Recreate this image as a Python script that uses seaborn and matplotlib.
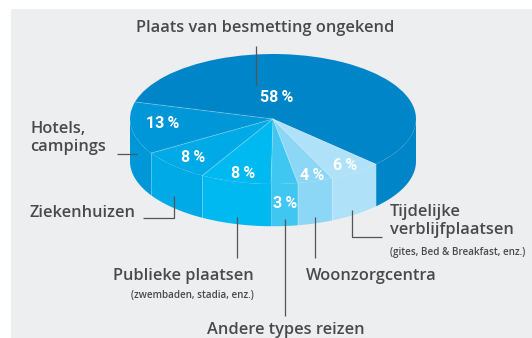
import numpy as np
import matplotlib
matplotlib.use("Agg")
import matplotlib.pyplot as plt
from matplotlib.patches import Rectangle
import seaborn as sns

# ---- data -------------------------------------------------------------
categories = ["Plaats van besmetting ongekend", "Hotels, campings", "Ziekenhuizen",
              "Publieke plaatsen", "Andere types reizen", "Woonzorgcentra",
              "Tijdelijke verblijfplaatsen"]
shares = [58, 13, 8, 8, 3, 4, 6]
slice_colors = ["#0086C8", "#0097D8", "#00AAE6", "#00B9F0", "#3FC7F2", "#8DD7F6", "#AFE2F8"]

# ---- style ------------------------------------------------------------
sns.set_style("white")
FONT = ["Open Sans", "DejaVu Sans"]
PFONT = ["Roboto", "DejaVu Sans"]
plt.rcParams["font.family"] = FONT
TEXT = "#4A4A4C"
LINE = "#555557"

W, H = 532, 338
fig = plt.figure(figsize=(W / 100, H / 100), dpi=100)
fig.patch.set_facecolor("white")

# grey panel behind everything (pixel coordinates)
bg = fig.add_axes([0, 0, 1, 1], zorder=0)
bg.set_xlim(0, W)
bg.set_ylim(H, 0)
bg.axis("off")
bg.add_patch(Rectangle((11, 9), W - 11, H - 9, color="#EDEEF0", lw=0))

# ---- pie axes: unit circle squashed into an ellipse -------------------
cx, cy, rx, ry = 273, 119, 143, 65     # ellipse centre / radii in pixels
depth = 0.65                            # wall height in units of ry
xl = (-1.05, 1.05)
yl = (-1 - depth - 0.05, 1.05)
left = cx + xl[0] * rx
width = (xl[1] - xl[0]) * rx
top = cy - yl[1] * ry
height = (yl[1] - yl[0]) * ry
pax = fig.add_axes([left / W, 1 - (top + height) / H, width / W, height / H], zorder=1)

wedges, _ = pax.pie(shares, colors=slice_colors, startangle=316, counterclock=True,
                    wedgeprops=dict(linewidth=0, edgecolor="none", zorder=3))
pax.set_aspect("auto")
pax.set_xlim(xl)
pax.set_ylim(yl)
pax.axis("off")


def front_spans(t1, t2):
    spans = []
    for k in (-1, 0, 1):
        a, b = 180 + 360 * k, 360 + 360 * k
        lo, hi = max(t1, a), min(t2, b)
        if hi > lo:
            spans.append((lo, hi))
    return spans


# side walls for the part of each wedge facing the viewer
for w, col in zip(wedges, slice_colors):
    for lo, hi in front_spans(w.theta1, w.theta2):
        t = np.radians(np.linspace(lo, hi, 80))
        xs = np.cos(t)
        ys = np.sin(t)
        px = np.concatenate([xs, xs[::-1]])
        py = np.concatenate([ys, ys[::-1] - depth])
        pax.fill(px, py, color=col, lw=0, zorder=2)

# subtle seams between slices on top and down the walls
for w in wedges:
    a = np.radians(w.theta1)
    pax.plot([0, np.cos(a)], [0, np.sin(a)], color="white", alpha=0.25, lw=0.7, zorder=4)
    if np.sin(a) < 0:
        pax.plot([np.cos(a)] * 2, [np.sin(a), np.sin(a) - depth], color="white",
                 alpha=0.2, lw=0.7, zorder=4)

# ---- annotations (pixel coordinates) ----------------------------------
ov = fig.add_axes([0, 0, 1, 1], zorder=2)
ov.set_xlim(0, W)
ov.set_ylim(H, 0)
ov.axis("off")
ov.patch.set_alpha(0)

pct_pos = [(277, 98), (163, 124), (193, 158), (243, 174), (285, 203), (312, 175), (345, 165)]
for v, (x, y) in zip(shares, pct_pos):
    ov.text(x, y, f"{v}\u2009%", color="white", fontsize=11.5, fontweight="bold",
            ha="center", va="center", family=PFONT)

lab = dict(color=TEXT, fontsize=11.8, fontweight="semibold", family=FONT)
sub = dict(color=TEXT, fontsize=7.1, fontweight="semibold", family=FONT)

ov.text(265, 28, categories[0], ha="center", va="center", **lab)
ov.text(30, 138, "Hotels,\ncampings", ha="left", va="center", linespacing=1.15, **lab)
ov.text(30, 213, categories[2], ha="left", va="center", **lab)
ov.text(254, 276, categories[3], ha="right", va="center", **lab)
ov.text(254, 296, "(zwembaden, stadia, enz.)", ha="right", va="center", **sub)
ov.text(286, 330, categories[4], ha="center", va="center", **lab)
ov.text(306, 276, categories[5], ha="left", va="center", **lab)
ov.text(390, 221, "Tijdelijke\nverblijfplaatsen", ha="left", va="center", linespacing=1.15, **lab)
ov.text(390, 252, "(gites, Bed & Breakfast, enz.)", ha="left", va="center", **sub)

ln = dict(color=LINE, lw=0.9, solid_capstyle="butt")
ov.plot([256, 256], [46, 86], **ln)
ov.plot([117, 137], [154, 154], **ln)
ov.plot([143, 174, 174], [218, 218, 196], **ln)
ov.plot([237, 237], [217, 258], **ln)
ov.plot([285, 285], [219, 316], **ln)
ov.plot([315, 315], [217, 258], **ln)
ov.plot([352, 352, 382], [210, 237, 237], **ln)

fig.savefig("out.png", dpi=100, facecolor=fig.get_facecolor())
